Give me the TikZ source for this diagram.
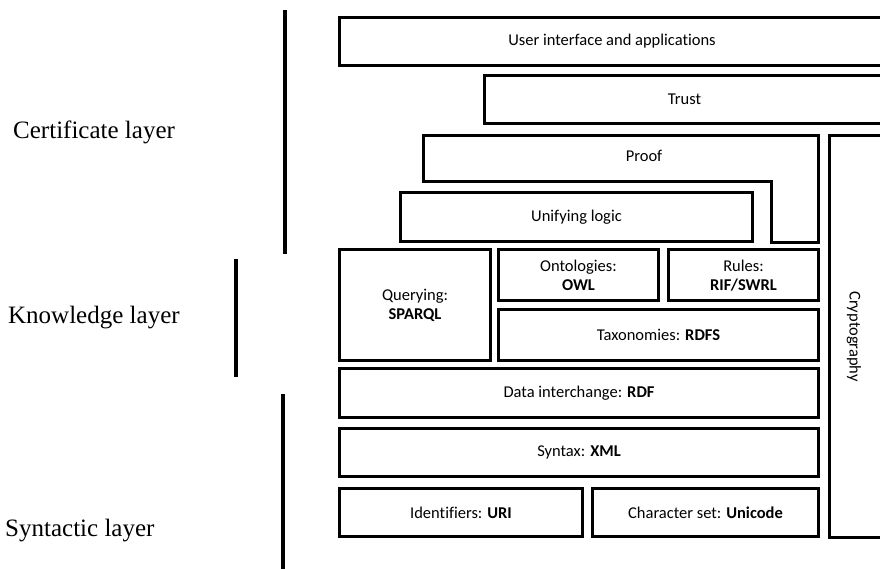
\documentclass[tikz,border=0pt]{standalone}
\usepackage{fontspec}
\setmainfont{Carlito}[Ligatures=CommonOff]
\newfontfamily\layerfont{Liberation Serif}
\usepackage{tikz}
\usetikzlibrary{positioning}
\tikzset{layerbox/.style={draw,rectangle,line width=3pt,inner sep=0pt,minimum height=48pt,align=center,font=\fontsize{16.5}{19}\selectfont}}
\tikzset{layerbar/.style={line width=4pt}}
\tikzset{layerlabel/.style={anchor=base west,inner sep=0pt,font=\layerfont\fontsize{25}{30}\selectfont}}

\begin{document}
\begin{tikzpicture}[x=1pt,y=-1pt]
			\clip (0,0) rectangle (880,569);
			% upper stack
			\node[layerbox,anchor=north west,minimum width=545pt] (ui) at (338,16) {User interface and applications};
			\node[layerbox,anchor=north west,minimum width=400pt] (trust) at (483,74) {Trust};
			\draw[line width=3pt] (423.5,135.5) -| (818.5,242.5) -| (771,182) -| cycle;
			\node (proof) at (644,156) {\fontsize{16.5}{19}\selectfont Proof};
			\node[layerbox,anchor=north west,minimum width=352pt,minimum height=49pt] (unify) at (399,191) {Unifying logic};
			% knowledge rows
			\node[layerbox,anchor=north west,minimum width=151pt,minimum height=110pt] (query) at (338,248.5) {Querying:\\\textbf{SPARQL}};
			\node[layerbox,minimum width=160pt,minimum height=50.5pt] (onto) [right=5pt of query.north east,anchor=north west] {Ontologies:\\\textbf{OWL}};
			\node[layerbox,minimum width=150pt,minimum height=50.5pt] (rules) [right=7pt of onto] {Rules:\\\textbf{RIF/SWRL}};
			\node[layerbox,minimum width=320pt,minimum height=50.5pt] (tax) [below=6pt of onto.south west,anchor=north west] {Taxonomies: \textbf{RDFS}};
			% syntactic rows
			\node[layerbox,minimum width=479pt,minimum height=49pt] (data) [below=5.5pt of query.south west,anchor=north west] {Data interchange: \textbf{RDF}};
			\node[layerbox,minimum width=479pt] (syntax) [below=8pt of data] {Syntax: \textbf{XML}};
			\node[layerbox,minimum width=243pt] (ident) [below=9pt of syntax.south west,anchor=north west] {Identifiers: \textbf{URI}};
			\node[layerbox,minimum width=226pt] (charset) [right=7pt of ident] {Character set: \textbf{Unicode}};
			% side column
			\node[layerbox,anchor=north west,minimum width=60pt,minimum height=402pt] (crypto) at (828,134) {};
			\node[rotate=-90] (cryptotext) at (854,336.5) {\fontsize{16.5}{19}\selectfont Cryptography};
			% layer bars and names
			\draw[layerbar] (285,10) -- (285,254);
			\draw[layerbar] (236,259) -- (236,377);
			\draw[layerbar] (283,394) -- (283,575);
			\node[layerlabel] (cert) at (13,139) {Certificate layer};
			\node[layerlabel] (know) at (8,323) {Knowledge layer};
			\node[layerlabel] (synt) at (5,536) {Syntactic layer};
		\end{tikzpicture}
\end{document}
